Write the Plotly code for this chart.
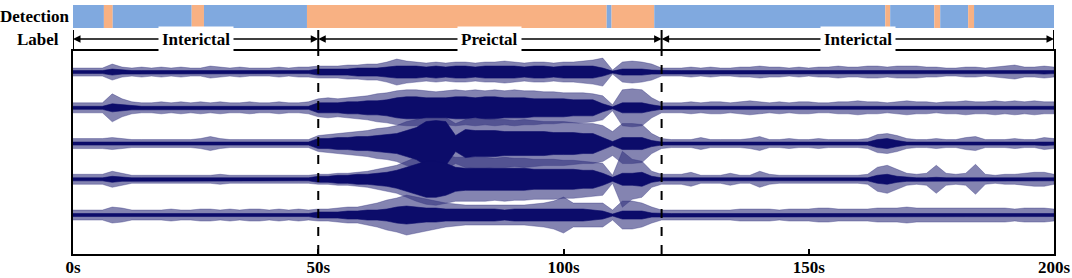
import plotly.graph_objects as go

# ---------------- data ----------------
time_s = list(range(0, 201, 2))  # envelope sampling times (s)

# half-amplitude envelopes (peak excursion and dense core) (px-like units)
ch1_peak = [4,4,4,4,8,5,4,5,4,5,4,5,4,4,6,5,4,5,4,4,4,5,4,5,5,
            6,6,6,7,7,8,8,10,13,11, 10,9,10,9,10,10,9,10,10,11, 10,9,10,10,9,10,10,11,12,14, 2,10,11,10,8,4,
            4,4,5,4,5,4,4,5,5,6, 5,5,4,5,4,5,5,6,5,5, 6,6,5,6,6,6,5,5,4,4, 5,5,4,5,6,7,5,5,6,5]
ch1_core = [1.5,1.5,1.5,1.5,3,2,1.5,1.5,1.5,1.5,1.5,1.5,1.5,1.5,2,1.5,1.5,1.5,1.5,1.5,1.5,1.5,1.5,1.5,1.5,
            3,3,3,3,4,4,4,5,6,6, 6,5,6,5,6,6,5,6,6,6, 6,5,6,6,5,6,6,6,6,4, 1,3,3,3,2,1.5,
            1.5,1.5,1.5,1.5,1.5,1.5,1.5,1.5,1.5,2, 1.5,1.5,1.5,1.5,1.5,1.5,1.5,2,1.5,1.5,
            2,2,1.5,2,2,2,1.5,1.5,1.5,1.5, 1.5,1.5,1.5,1.5,2,2,1.5,1.5,2,1.5]

ch2_peak = [5,5,5,5,14,9,6,5,5,6,5,6,5,6,5,6,5,5,6,5,5,6,5,5,6,
            9,10,9,10,11,12,14,15,17,18, 18,17,16,17,18,17,18,17,18,17, 18,17,17,16,16,15,15,15,14,12, 3,18,19,18,10,5,
            5,5,6,5,6,6,5,6,7,6, 5,6,5,6,6,5,5,6,6,7, 6,6,5,6,7,6,6,5,6,6, 7,6,6,7,6,7,6,7,6,6]
ch2_core = [1.5,1.5,1.5,1.5,4,3,2,1.5,1.5,1.5,1.5,1.5,1.5,1.5,1.5,1.5,1.5,1.5,1.5,1.5,1.5,1.5,1.5,1.5,1.5,
            5,5,5,6,6,7,7,8, 10,11,11,10,10,10,11,11,10,11,11,10,10,10,9,9,9,9,8,8,8, 4,1,5,5,5,3,1.5,
            1.5,1.5,1.5,1.5,1.5,1.5,1.5,1.5,2,1.5, 1.5,1.5,1.5,1.5,1.5,1.5,1.5,1.5,1.5,2,
            1.5,1.5,1.5,1.5,2,1.5,1.5,1.5,1.5,1.5, 2,1.5,1.5,2,1.5,2,1.5,2,1.5,1.5]

ch3_peak = [5,5,5,5,6,5,4,4,4,4,4,4,4,5,7,5,4,4,4,4,4,4,4,4,4,
            8,9,10,11,12,13,15,16,18,22, 24,27,27,26,20,24,25,25,24,24, 23,24,23,22,22,22,21,20,20,18, 12,20,20,19,10,5,
            4,4,4,6,4,4,4,4,5,7, 4,4,5,4,4,5,4,4,4,4, 5,9,10,8,5,4,4,5,4,4, 6,7,4,4,4,5,4,4,6,5]
ch3_core = [1.5,1.5,1.5,1.5,2,1.5,1.5,1.5,1.5,1.5,1.5,1.5,1.5,1.5,2,1.5,1.5,1.5,1.5,1.5,1.5,1.5,1.5,1.5,1.5,
            5,5,6,6,7,7,8,9, 10,13,16,22,23,22,8,14, 13,13,13,12,12,12,12,12,11,11,11,10,10, 6,2,6,6,6,3,1.5,
            1.5,1.5,1.5,2,1.5,1.5,1.5,1.5,1.5,2, 1.5,1.5,1.5,1.5,1.5,1.5,1.5,1.5,1.5,1.5,
            1.5,4,5,3,1.5,1.5,1.5,1.5,1.5,1.5, 1.5,2,1.5,1.5,1.5,1.5,1.5,1.5,2,1.5]

ch4_peak = [5,5,5,5,8,6,4,4,4,4,4,4,4,4,4,5,4,4,4,4,4,4,4,4,4,
            5,5,6,6,7,8,10,12,14,18, 22,25,26,24,22,22,22,22,21,22, 21,21,20,20,20,19,19,18,17,16, 4,28,20,18,8,5,
            5,5,7,4,4,4,6,4,4,8, 5,4,4,4,4,4,4,4,4,4, 5,12,14,10,6,5,6,14,6,5, 6,15,5,4,5,5,6,7,7,5]
ch4_core = [1.5,1.5,1.5,1.5,3,2,1.5,1.5,1.5,1.5,1.5,1.5,1.5,1.5,1.5,1.5,1.5,1.5,1.5,1.5,1.5,1.5,1.5,1.5,1.5,
            3,3,4,4,5,5,6,7, 9,12,15,18,18,16,12, 11,11,11,11,11,11,11,10,10,10,10,10,9,9, 6,2,6,6,7,3,1.5,
            1.5,1.5,2,1.5,1.5,1.5,2,1.5,1.5,2, 1.5,1.5,1.5,1.5,1.5,1.5,1.5,1.5,1.5,1.5,
            1.5,4,5,3,2,1.5,1.5,2,1.5,1.5, 1.5,2,1.5,1.5,1.5,1.5,1.5,1.5,1.5,1.5]

ch5_peak = [5,5,5,5,8,7,5,5,5,5,6,5,5,6,6,5,6,5,6,6,5,6,5,6,5,
            6,6,7,8,8,10,12,15,17,20, 18,16,14,12,11,10,10,10,10,10, 10,10,11,12,14,18,12,12,12,12, 5,14,14,12,8,5,
            5,5,5,5,5,5,5,6,6,6, 6,5,6,6,6,7,7,6,6,6, 6,7,7,7,8,7,7,7,7,7, 7,7,7,7,7,6,7,7,7,6]
ch5_core = [1.5,1.5,1.5,1.5,2,2,1.5,1.5,1.5,1.5,1.5,1.5,1.5,1.5,1.5,1.5,1.5,1.5,1.5,1.5,1.5,1.5,1.5,1.5,1.5,
            3,3,3,4,4,5,5,6, 8,9,8,7,7,6, 6,6,6,6,6,5,6,6,6,6,6,6,6,6,5, 4,1,4,4,4,2,1.5,
            1.5,1.5,1.5,1.5,1.5,1.5,1.5,1.5,1.5,1.5, 1.5,1.5,1.5,1.5,1.5,1.5,1.5,1.5,1.5,1.5,
            1.5,1.5,1.5,1.5,2,1.5,1.5,1.5,1.5,1.5, 1.5,1.5,1.5,1.5,1.5,1.5,1.5,1.5,1.5,1.5]

channel_offsets = [5, 4, 3, 2, 1]

# detection output segments (s)
det_start = [0, 6.3, 8.1, 24.2, 26.7, 47.7, 108.8, 109.8, 118.5, 165.6, 166.6, 175.6, 176.8, 182.5, 183.7]
det_end = [6.3, 8.1, 24.2, 26.7, 47.7, 108.8, 109.8, 118.5, 165.6, 166.6, 175.6, 176.8, 182.5, 183.7, 200]
det_class = ["Interictal", "Preictal", "Interictal", "Preictal", "Interictal", "Preictal", "Interictal",
             "Preictal", "Interictal", "Preictal", "Interictal", "Preictal", "Interictal", "Preictal", "Interictal"]

# ground-truth label segments
label_bounds = [0, 50, 120, 200]
label_names = ["Interictal", "Preictal", "Interictal"]

tick_vals = [0, 50, 100, 150, 200]
tick_text = ["0s", "50s", "100s", "150s", "200s"]

# ---------------- styling ----------------
W, H = 1072, 278
L, R, T, B = 73, 18, 51, 24
PLOT_TOP, PLOT_BOT = T, H - B
PX_PER_UNIT = 35.75
FONT = "Liberation Serif"
NAVY = "#0c0c6a"
OUTER = "rgba(50,50,125,0.6)"
COLORS = {"Interictal": "#80a9df", "Preictal": "#f8b183"}


def py(p):
    return (PLOT_BOT - p) / (PLOT_BOT - PLOT_TOP)


def px(p):
    return (p - L) / (W - L - R)


fig = go.Figure()

peaks = [ch1_peak, ch2_peak, ch3_peak, ch4_peak, ch5_peak]
cores = [ch1_core, ch2_core, ch3_core, ch4_core, ch5_core]
for env_list, color in ((peaks, OUTER), (cores, NAVY)):
    for c, env in zip(channel_offsets, env_list):
        up = [c + a / PX_PER_UNIT for a in env]
        lo = [c - a / PX_PER_UNIT for a in env]
        fig.add_trace(go.Scatter(
            x=time_s + time_s[::-1], y=up + lo[::-1], mode="lines",
            fill="toself", fillcolor=color, line=dict(width=0.6, color=color),
            hoverinfo="skip", showlegend=False))

shapes = []
for s, e, k in zip(det_start, det_end, det_class):
    shapes.append(dict(type="rect", xref="x", yref="paper", x0=s, x1=e, y0=py(28), y1=py(5),
                       fillcolor=COLORS[k], line=dict(width=0), layer="above"))
for b in label_bounds:
    shapes.append(dict(type="line", xref="x", yref="paper", x0=b, x1=b, y0=1, y1=py(30),
                       line=dict(color="black", width=2)))
for b in label_bounds[1:-1]:
    shapes.append(dict(type="line", xref="x", yref="paper", x0=b, x1=b, y0=0, y1=1,
                       line=dict(color="black", width=2, dash="dash"), layer="above"))

annotations = [
    dict(text="Detection", xref="paper", yref="paper", x=px(71), y=py(16), xanchor="right",
         yanchor="middle", showarrow=False, font=dict(family=FONT, size=17, color="black", weight="bold")),
    dict(text="Label", xref="paper", yref="paper", x=px(38), y=py(40), xanchor="center",
         yanchor="middle", showarrow=False, font=dict(family=FONT, size=17, color="black", weight="bold")),
]
for a, b, name in zip(label_bounds[:-1], label_bounds[1:], label_names):
    m = (a + b) / 2
    for end in (a, b):
        annotations.append(dict(text="", x=end, y=py(39), xref="x", yref="paper",
                                ax=m, ay=0, axref="x", ayref="pixel", showarrow=True,
                                arrowhead=2, arrowsize=1, arrowwidth=1.5, arrowcolor="black",
                                standoff=0, startstandoff=0))
    annotations.append(dict(text=name, x=m, y=py(39), xref="x", yref="paper", showarrow=False,
                            xanchor="center", yanchor="middle", bgcolor="white", borderpad=3,
                            font=dict(family=FONT, size=17, color="black", weight="bold")))

fig.update_layout(
    width=W, height=H, margin=dict(l=L, r=R, t=T, b=B, autoexpand=False),
    paper_bgcolor="white", plot_bgcolor="white",
    shapes=shapes, annotations=annotations,
    xaxis=dict(range=[0, 200], tickvals=tick_vals, ticktext=tick_text, ticks="inside", ticklen=5,
               tickwidth=2, tickcolor="black", showline=True, linecolor="black", linewidth=2,
               mirror=True, showgrid=False, zeroline=False, automargin=False,
               ticklabelstandoff=-3,
               tickfont=dict(family=FONT, size=17, color="black", weight="bold")),
    yaxis=dict(range=[-0.09, 5.59], showticklabels=False, ticks="", showline=True, linecolor="black",
               linewidth=2, mirror=True, showgrid=False, zeroline=False, automargin=False),
)

fig.write_html("out.html", config={"displayModeBar": False},
               post_script="document.body.style.margin='0';document.body.style.padding='0';")
